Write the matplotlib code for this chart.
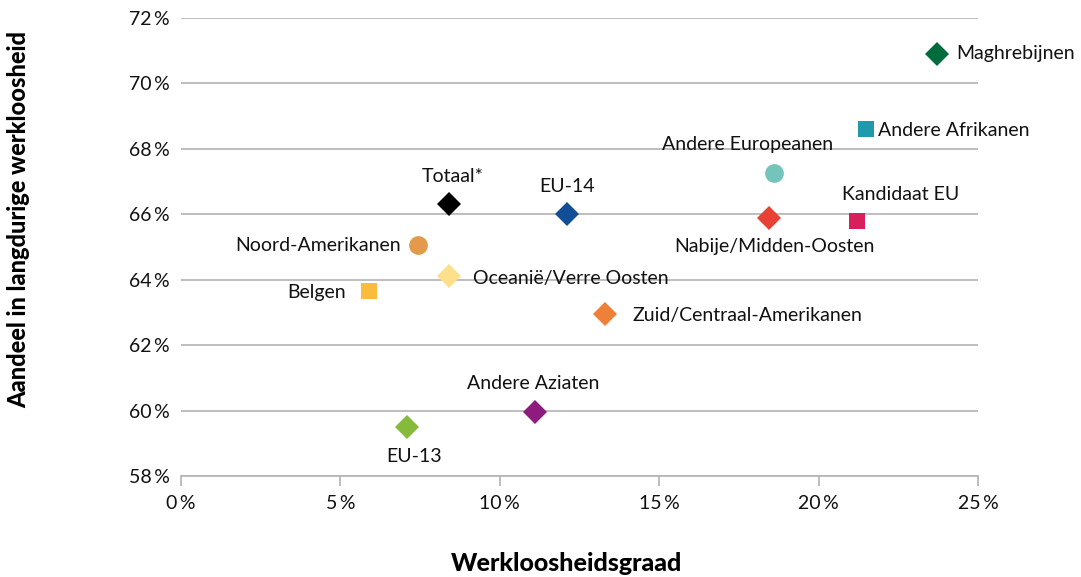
import numpy as np
import matplotlib.pyplot as plt

plt.rcParams['font.family'] = ['Lato', 'DejaVu Sans']

# werkloosheidsgraad (%) en aandeel langdurige werkloosheid (%) per herkomstgroep
groepen = ["Maghrebijnen", "Andere Afrikanen", "Andere Europeanen", "Kandidaat EU",
           "Nabije/Midden-Oosten", "EU-14", "Totaal*", "Noord-Amerikanen",
           "Oceanië/Verre Oosten", "Belgen", "Zuid/Centraal-Amerikanen",
           "Andere Aziaten", "EU-13"]
werkloosheid = [23.7, 21.5, 18.6, 21.2, 18.45, 12.1, 8.4, 7.45, 8.4, 5.9, 13.3, 11.1, 7.1]
langdurig = [70.9, 68.6, 67.25, 65.8, 65.9, 66.0, 66.3, 65.05, 64.1, 63.65, 62.95, 59.95, 59.5]
kleuren = ["#006b3c", "#1f9aad", "#74c4bb", "#d81e5b", "#e84236", "#124e96", "#000000",
           "#e39a4b", "#fde08c", "#fbbb3c", "#ef8037", "#8e1c7e", "#85ba3b"]
markers = ["D", "s", "o", "s", "D", "D", "D", "o", "D", "s", "D", "D", "D"]

# positie van elk label t.o.v. het punt (pixels) en uitlijning
label_pos = [
    ((20, 0), "left", "center"),
    ((12, -1), "left", "center"),
    ((-26, 29), "center", "center"),
    ((44, 26), "center", "center"),
    ((5, -29), "center", "center"),
    ((0, 28), "center", "center"),
    ((4, 28), "center", "center"),
    ((-18, 0), "right", "center"),
    ((24, -2), "left", "center"),
    ((-23, -1), "right", "center"),
    ((28, -1), "left", "center"),
    ((-2, 29), "center", "center"),
    ((7, -30), "center", "center"),
]

fig = plt.figure(figsize=(10.81, 5.77), dpi=100)
ax = fig.add_axes([0.1674, 0.175, 0.7373, 0.7938])

for x, y, k, m in zip(werkloosheid, langdurig, kleuren, markers):
    ms = {"D": 12.5, "s": 12, "o": 13.5}[m]
    ax.plot(x, y, marker=m, color=k, markersize=ms, markeredgewidth=0, linestyle="none",
            zorder=3)

for naam, x, y, (off, ha, va) in zip(groepen, werkloosheid, langdurig, label_pos):
    ax.annotate(naam, (x, y), xytext=off, textcoords="offset pixels", ha=ha, va=va,
                fontsize=14, color="#111111", zorder=4)

ax.set_xlim(0, 25)
ax.set_ylim(58, 72)
ax.set_xticks(np.arange(0, 26, 5))
ax.set_yticks(np.arange(58, 73, 2))
ax.set_xticklabels([f"{v}\u2009%" for v in range(0, 26, 5)])
ax.set_yticklabels([f"{v}\u2009%" for v in range(58, 73, 2)])
ax.yaxis.grid(True, color="#b3b3b3", linewidth=1.2)
ax.set_axisbelow(True)
for s in ["top", "right", "left"]:
    ax.spines[s].set_visible(False)
ax.spines["bottom"].set_color("#b3b3b3")
ax.spines["bottom"].set_linewidth(1.2)
ax.tick_params(axis="x", length=7, width=1.2, color="#b3b3b3", labelsize=14,
               labelcolor="#111111", pad=7)
ax.tick_params(axis="y", length=0, labelsize=14, labelcolor="#111111", pad=8)

fig.text(0.524, 0.024, "Werkloosheidsgraad", ha="center", va="center",
         fontsize=18, fontweight="black")
fig.text(0.017, 0.62, "Aandeel in langdurige werkloosheid", ha="center", va="center",
         rotation=90, fontsize=17, fontweight="black")

fig.savefig("out.png", dpi=100)
